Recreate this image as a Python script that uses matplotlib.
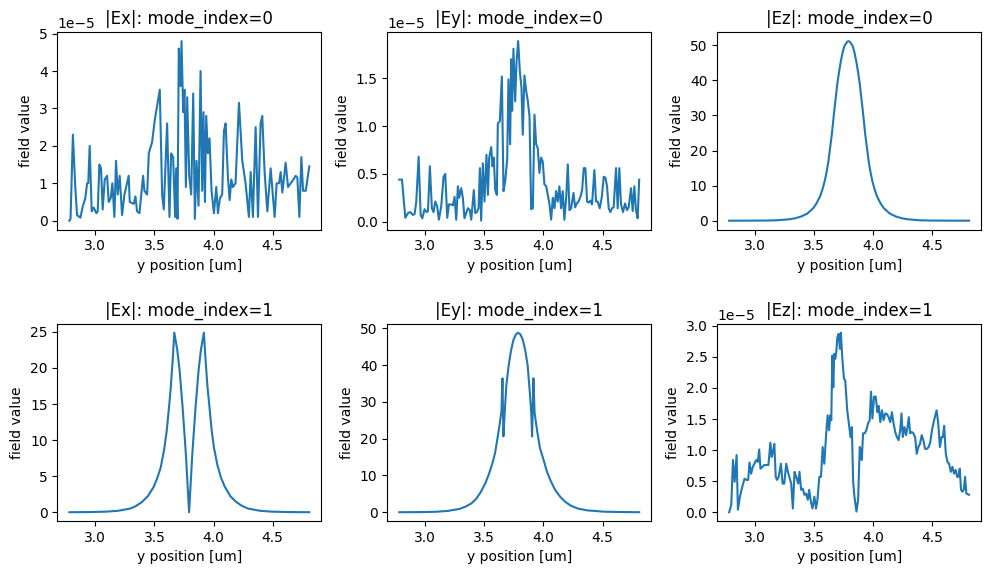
import numpy as np
import matplotlib
matplotlib.use('Agg')
import matplotlib.pyplot as plt

# noisy components are in units of 1e-5
SCALE = 1e-5

ex0_x = [2.78, 2.79, 2.81, 2.83, 2.845, 2.873, 2.895, 2.915, 2.93, 2.94, 2.952, 2.969, 2.986, 3.008, 3.02,
         3.034, 3.048, 3.062, 3.079, 3.099, 3.113, 3.13, 3.144, 3.161, 3.175, 3.189, 3.206, 3.226, 3.246,
         3.282, 3.291, 3.325, 3.339, 3.353, 3.373, 3.404, 3.415, 3.438, 3.452, 3.48, 3.503, 3.545, 3.565,
         3.579, 3.607, 3.627, 3.641, 3.658, 3.675, 3.684, 3.695, 3.706, 3.72, 3.729, 3.743, 3.754, 3.766,
         3.777, 3.794, 3.811, 3.828, 3.842, 3.856, 3.873, 3.89, 3.904, 3.915, 3.927, 3.938, 3.952, 3.966,
         3.983, 4.003, 4.023, 4.037, 4.054, 4.073, 4.088, 4.102, 4.121, 4.136, 4.15, 4.164, 4.186, 4.215,
         4.243, 4.271, 4.299, 4.314, 4.333, 4.356, 4.376, 4.398, 4.412, 4.432, 4.455, 4.483, 4.517, 4.534,
         4.554, 4.568, 4.582, 4.61, 4.63, 4.653, 4.675, 4.695, 4.709, 4.726, 4.743, 4.757, 4.78, 4.81]
ex0_y = [0.0, 0.05, 2.3, 0.9, 0.15, 0.08, 0.4, 0.6, 1.0, 1.0, 2.0, 0.25, 0.35, 0.2, 0.25,
         1.5, 1.4, 0.3, 1.1, 1.2, 0.5, 0.6, 1.0, 0.1, 1.6, 0.7, 1.2, 0.15, 0.7,
         1.2, 0.5, 0.45, 0.65, 0.25, 0.2, 1.2, 0.8, 0.7, 1.8, 2.1, 2.7, 3.5, 0.7,
         0.3, 2.6, 0.1, 1.8, 1.7, 0.1, 1.4, 0.05, 4.6, 3.6, 4.8, 2.9, 3.5, 0.9,
         3.3, 1.2, 0.7, 3.4, 0.05, 1.6, 0.4, 4.0, 0.8, 2.9, 0.5, 2.8, 1.8, 2.2,
         0.8, 0.2, 0.9, 0.2, 0.6, 0.7, 2.4, 2.6, 1.2, 0.55, 1.1, 0.9, 1.0, 3.15,
         1.6, 1.0, 0.1, 1.3, 0.1, 2.5, 0.1, 2.6, 2.8, 1.3, 0.25, 1.4, 0.1, 1.0,
         1.0, 1.3, 0.75, 1.55, 0.9, 1.0, 1.1, 1.2, 1.15, 0.1, 1.7, 0.8, 0.8, 1.45]

ey0_x = [2.78, 2.803, 2.831, 2.854, 2.873, 2.896, 2.91, 2.924, 2.944, 2.961, 2.975, 2.994, 3.011, 3.023,
         3.039, 3.056, 3.07, 3.085, 3.101, 3.115, 3.135, 3.155, 3.169, 3.186, 3.2, 3.22, 3.234, 3.248,
         3.262, 3.276, 3.287, 3.304, 3.318, 3.332, 3.346, 3.361, 3.377, 3.389, 3.411, 3.423, 3.437, 3.451,
         3.462, 3.473, 3.487, 3.501, 3.518, 3.53, 3.541, 3.558, 3.569, 3.58, 3.592, 3.606, 3.614, 3.631,
         3.648, 3.662, 3.676, 3.693, 3.704, 3.718, 3.727, 3.735, 3.746, 3.761, 3.772, 3.786, 3.8, 3.814,
         3.825, 3.839, 3.854, 3.868, 3.882, 3.896, 3.91, 3.924, 3.938, 3.952, 3.966, 3.98, 3.994, 4.008,
         4.023, 4.037, 4.051, 4.065, 4.079, 4.093, 4.107, 4.121, 4.135, 4.149, 4.163, 4.177, 4.192, 4.206,
         4.22, 4.234, 4.254, 4.268, 4.282, 4.296, 4.313, 4.327, 4.341, 4.355, 4.369, 4.383, 4.397, 4.411,
         4.431, 4.445, 4.459, 4.476, 4.493, 4.51, 4.524, 4.538, 4.552, 4.566, 4.58, 4.594, 4.614, 4.628,
         4.642, 4.656, 4.673, 4.69, 4.707, 4.721, 4.741, 4.755, 4.769, 4.783, 4.797, 4.81]
ey0_y = [0.44, 0.44, 0.04, 0.09, 0.1, 0.07, 0.08, 0.21, 0.68, 0.07, 0.035, 0.13, 0.1, 0.11,
         0.58, 0.14, 0.1, 0.21, 0.16, 0.02, 0.16, 0.47, 0.5, 0.04, 0.18, 0.18, 0.17, 0.26,
         0.02, 0.37, 0.25, 0.35, 0.25, 0.035, 0.09, 0.14, 0.12, 0.02, 0.33, 0.09, 0.1, 0.14,
         0.56, 0.01, 0.61, 0.21, 0.7, 0.28, 0.67, 0.78, 0.58, 0.67, 0.33, 0.28, 1.03, 1.05,
         1.52, 0.32, 0.42, 0.65, 1.49, 0.81, 1.70, 1.16, 1.81, 1.26, 1.67, 1.89, 1.58, 1.4,
         0.91, 1.53, 1.37, 1.26, 1.1, 0.13, 0.14, 1.12, 0.81, 0.77, 0.51, 0.67, 0.63, 0.39,
         0.37, 0.28, 0.18, 0.02, 0.25, 0.14, 0.32, 0.21, 0.37, 0.14, 0.32, 0.02, 0.25, 0.6,
         0.12, 0.14, 0.3, 0.15, 0.19, 0.21, 0.26, 0.33, 0.56, 0.56, 0.21, 0.2, 0.22, 0.18,
         0.54, 0.21, 0.21, 0.14, 0.25, 0.47, 0.46, 0.37, 0.14, 0.1, 0.14, 0.15, 0.56, 0.14,
         0.56, 0.18, 0.1, 0.19, 0.12, 0.15, 0.35, 0.11, 0.37, 0.12, 0.035, 0.44]

ez0_x = [2.78, 2.94, 3.09, 3.19, 3.29, 3.34, 3.39, 3.44, 3.49, 3.52, 3.55, 3.57, 3.59, 3.605, 3.62,
         3.635, 3.65, 3.665, 3.68, 3.695, 3.71, 3.725, 3.74, 3.755, 3.77, 3.78, 3.79, 3.80, 3.81, 3.825,
         3.84, 3.855, 3.87, 3.885, 3.90, 3.915, 3.93, 3.945, 3.96, 3.975, 3.99, 4.01, 4.03, 4.06, 4.09,
         4.14, 4.19, 4.24, 4.29, 4.39, 4.49, 4.64, 4.81]
ez0_y = [0.0, 0.01, 0.04, 0.12, 0.4, 0.7, 1.2, 2.0, 3.5, 5.0, 7.0, 9.0, 11.5, 14.0, 17.0,
         21.0, 25.0, 30.0, 34.5, 39.0, 42.5, 45.5, 48.0, 49.8, 50.6, 51.05, 51.2, 51.05, 50.6, 49.8,
         48.0, 45.5, 42.5, 39.0, 34.5, 30.0, 25.0, 21.0, 17.0, 14.0, 11.5, 9.0, 7.0, 5.0, 3.5,
         2.0, 1.2, 0.7, 0.4, 0.12, 0.04, 0.01, 0.0]

ex1_x = [2.78, 2.943, 3.093, 3.193, 3.293, 3.343, 3.393, 3.443, 3.493, 3.523, 3.553, 3.583, 3.603,
         3.623, 3.638, 3.653, 3.668, 3.693, 3.712, 3.738, 3.766, 3.793, 3.82, 3.848, 3.874, 3.893,
         3.918, 3.933, 3.948, 3.963, 3.983, 4.003, 4.033, 4.063, 4.093, 4.143, 4.193, 4.243, 4.293,
         4.393, 4.493, 4.643, 4.81]
ex1_y = [0.0, 0.02, 0.08, 0.2, 0.5, 0.85, 1.4, 2.2, 3.5, 4.7, 6.2, 8.8, 11.2,
         14.5, 17.3, 20.8, 24.9, 22.5, 19.8, 14.6, 8.0, 0.0, 8.0, 14.6, 19.8, 22.5,
         24.9, 21.0, 17.5, 15.0, 11.5, 9.0, 6.5, 4.8, 3.6, 2.2, 1.4, 0.85, 0.5,
         0.2, 0.08, 0.02, 0.0]

ey1_x = [2.78, 2.95, 3.09, 3.19, 3.29, 3.34, 3.39, 3.43, 3.47, 3.51, 3.54, 3.57, 3.59, 3.608,
         3.63, 3.645, 3.653, 3.661, 3.672, 3.686, 3.706, 3.726, 3.746, 3.766, 3.786, 3.806, 3.826,
         3.846, 3.866, 3.886, 3.897, 3.904, 3.915, 3.925, 3.947, 3.97, 4.003, 4.03, 4.06, 4.10,
         4.144, 4.19, 4.23, 4.29, 4.37, 4.51, 4.65, 4.81]
ey1_y = [0.0, 0.03, 0.12, 0.35, 0.9, 1.5, 2.4, 3.6, 5.5, 8.0, 10.5, 13.5, 16.0, 19.5,
         24.0, 27.5, 36.4, 20.6, 27.0, 34.5, 40.0, 44.0, 46.8, 48.3, 48.8, 48.3, 46.8,
         44.0, 40.0, 32.0, 27.0, 20.6, 36.4, 27.0, 22.0, 17.5, 14.0, 11.0, 8.6, 6.0,
         4.1, 2.7, 1.8, 1.0, 0.5, 0.15, 0.05, 0.0]

ez1_x = [2.78, 2.798, 2.812, 2.826, 2.843, 2.854, 2.871, 2.891, 2.91, 2.927, 2.941, 2.952, 2.966, 2.98,
         2.994, 3.008, 3.022, 3.034, 3.045, 3.062, 3.078, 3.095, 3.112, 3.129, 3.14, 3.151, 3.162, 3.174,
         3.185, 3.199, 3.218, 3.232, 3.246, 3.263, 3.277, 3.289, 3.305, 3.319, 3.333, 3.347, 3.364, 3.375,
         3.389, 3.403, 3.417, 3.431, 3.445, 3.457, 3.471, 3.485, 3.501, 3.515, 3.527, 3.543, 3.557, 3.571,
         3.585, 3.599, 3.613, 3.625, 3.636, 3.644, 3.653, 3.661, 3.669, 3.678, 3.686, 3.695, 3.706, 3.717,
         3.725, 3.737, 3.751, 3.762, 3.779, 3.796, 3.807, 3.818, 3.829, 3.84, 3.857, 3.871, 3.885, 3.894,
         3.902, 3.913, 3.927, 3.941, 3.955, 3.969, 3.98, 3.992, 4.006, 4.02, 4.034, 4.045, 4.059, 4.073,
         4.087, 4.101, 4.115, 4.129, 4.143, 4.157, 4.171, 4.185, 4.199, 4.213, 4.227, 4.238, 4.249, 4.263,
         4.277, 4.289, 4.3, 4.311, 4.325, 4.339, 4.353, 4.367, 4.381, 4.395, 4.409, 4.423, 4.437, 4.454,
         4.468, 4.482, 4.496, 4.51, 4.524, 4.535, 4.549, 4.563, 4.577, 4.588, 4.599, 4.613, 4.627, 4.641,
         4.655, 4.669, 4.683, 4.697, 4.709, 4.72, 4.731, 4.742, 4.753, 4.765, 4.776, 4.787, 4.81]
ez1_y = [0.0, 0.12, 0.84, 0.49, 0.92, 0.04, 0.25, 0.41, 0.54, 0.52, 0.52, 0.8, 0.62, 0.73,
         0.78, 0.84, 0.81, 1.01, 0.7, 0.73, 0.76, 0.76, 0.76, 1.12, 0.89, 0.97, 1.1, 0.57,
         0.52, 0.57, 0.78, 0.46, 0.46, 0.78, 0.65, 0.57, 0.46, 0.06, 0.65, 0.57, 0.46, 0.65,
         0.36, 0.38, 0.28, 0.3, 0.2, 0.36, 0.17, 0.06, 0.25, 0.06, 0.2, 0.57, 0.57, 1.05,
         0.78, 1.21, 1.56, 1.32, 1.56, 1.48, 2.52, 2.01, 2.55, 2.47, 2.57, 2.81, 2.87, 2.63,
         2.89, 2.49, 2.15, 2.12, 1.64, 1.37, 1.21, 1.37, 0.49, 0.25, 0.01, 0.2, 1.05, 1.0,
         0.84, 1.27, 1.27, 1.32, 1.43, 1.48, 1.94, 1.51, 1.86, 1.86, 1.61, 1.71, 1.45, 1.64,
         1.48, 1.59, 1.58, 1.53, 1.45, 1.61, 1.43, 1.29, 1.21, 1.16, 1.32, 1.59, 1.21, 1.37,
         1.24, 1.37, 1.53, 1.27, 1.29, 1.27, 1.21, 0.94, 1.05, 1.1, 1.24, 1.16, 1.02, 1.02,
         1.05, 1.13, 1.32, 1.45, 1.56, 1.64, 1.43, 1.05, 1.21, 1.21, 1.39, 0.94, 0.81, 0.78,
         0.65, 0.73, 0.62, 0.68, 0.57, 0.57, 0.7, 0.36, 0.33, 0.36, 0.57, 0.3, 0.28]

components = ['Ex', 'Ey', 'Ez']
panels = [
    [(ex0_x, ex0_y, SCALE), (ey0_x, ey0_y, SCALE), (ez0_x, ez0_y, 1.0)],
    [(ex1_x, ex1_y, 1.0), (ey1_x, ey1_y, 1.0), (ez1_x, ez1_y, SCALE)],
]

fig, axes = plt.subplots(2, 3, figsize=(9.89, 5.74), dpi=100)
fig.subplots_adjust(left=0.058, right=0.992, top=0.944, bottom=0.092, wspace=0.25, hspace=0.476)

for mode in range(2):
    for j, comp in enumerate(components):
        ax = axes[mode, j]
        xs, ys, s = panels[mode][j]
        ax.plot(xs, np.array(ys) * s)
        ax.set_title(f'|{comp}|: mode_index={mode}')
        ax.set_xlabel('y position [um]')
        ax.set_ylabel('field value')

fig.savefig('out.png')
